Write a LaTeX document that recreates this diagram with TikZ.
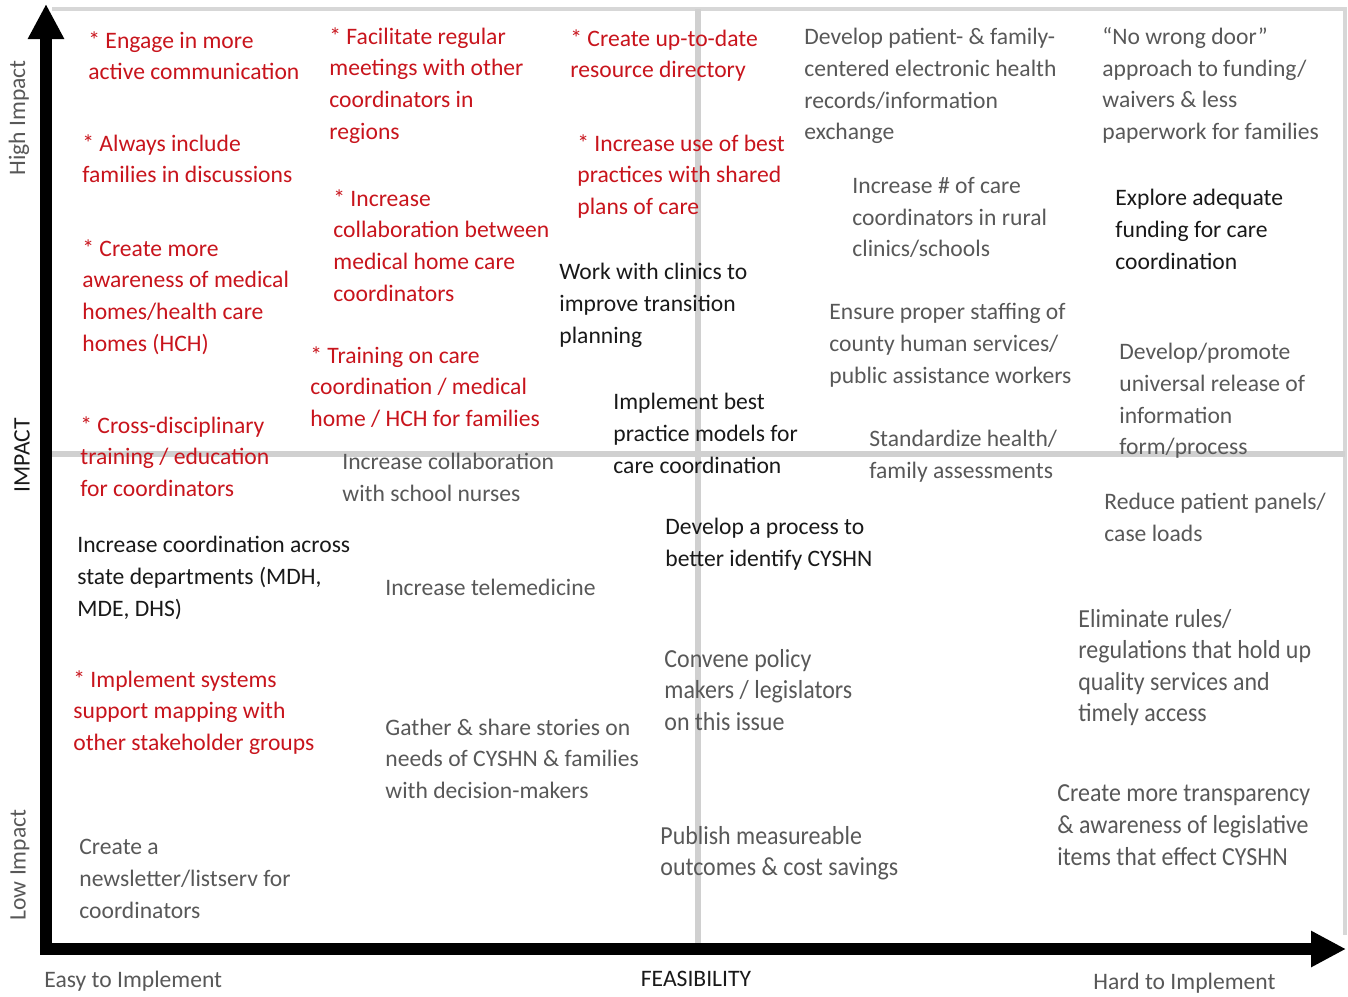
\documentclass[tikz,border=0pt]{standalone}
\usepackage{fontspec}
\setmainfont{Carlito}
\newfontfamily\condfont[FakeStretch=0.92]{Carlito}
\usetikzlibrary{arrows.meta}
\definecolor{itemred}{RGB}{200,20,28}
\definecolor{itemgray}{RGB}{88,88,88}
\definecolor{itemblack}{RGB}{25,25,25}
\definecolor{gridgray}{RGB}{208,208,208}
\definecolor{framegray}{RGB}{215,215,215}
\tikzset{
  item/.style={anchor=north west, inner sep=0pt, align=left,
    execute at begin node={\rule{0pt}{11pt}}},
  regfont/.style={item, yshift=4.4pt, font=\fontsize{11.8}{15.8}\selectfont},
  rtext/.style={regfont, text=itemred},
  gtext/.style={regfont, text=itemgray},
  btext/.style={regfont, text=itemblack},
  ctext/.style={item, text=itemgray, yshift=4.2pt,
    font=\condfont\fontsize{13}{15.8}\selectfont},
  axlabel/.style={inner sep=0pt, font=\fontsize{11.8}{15.8}\selectfont},
  gridline/.style={draw=gridgray, line width=2.6pt},
  frameline/.style={draw=framegray, line width=1.8pt},
  axis/.style={line width=6pt, line join=miter,
    {Triangle[length=17.5pt,width=17pt]}-{Triangle[length=17.5pt,width=17pt]}}
}
\begin{document}
\begin{tikzpicture}[x=0.5pt,y=-0.5pt]
\useasboundingbox (0,0) rectangle (1348,996);
% frame and grid
\coordinate (ftl) at (52,9);
\coordinate (ftr) at (1345,9);
\coordinate (fbr) at (1345,935);
\draw[frameline] (ftl) -- (ftr) -- (fbr);
\coordinate (vt) at (698,9);
\coordinate (vb) at (698,945);
\coordinate (hl) at (50,454);
\coordinate (hr) at (1345,454);
\draw[gridline] (vt) -- (vb);
\draw[gridline] (hl) -- (hr);
% axes
\coordinate (ytip) at (46,4);
\coordinate (corner) at (46,949);
\coordinate (xtip) at (1346,949);
\draw[axis] (ytip) -- (corner) -- (xtip);
% axis labels
\node[axlabel, rotate=90, text=itemgray] (hi) at (19,118) {High Impact};
\node[axlabel, rotate=90, text=itemblack] (imp) at (22,455) {IMPACT};
\node[axlabel, rotate=90, text=itemgray] (lo) at (20,865) {Low Impact};
\node[axlabel, anchor=west, text=itemgray] (easy) at (44,981) {Easy to Implement};
\node[axlabel, text=itemblack] (feas) at (696,979) {FEASIBILITY};
\node[axlabel, anchor=west, text=itemgray] (hard) at (1093,983) {Hard to Implement};
% red items
\node[rtext] (r1) at (88,40) {* Engage in more\\active communication};
\node[rtext] (r2) at (82,143) {* Always include\\families in discussions};
\node[rtext] (r3) at (82,248) {* Create more\\awareness of medical\\homes/health care\\homes (HCH)};
\node[rtext] (r4) at (80,425) {* Cross-disciplinary\\training / education\\for coordinators};
\node[rtext] (r5) at (329,36) {* Facilitate regular\\meetings with other\\coordinators in\\regions};
\node[rtext] (r6) at (333,198) {* Increase\\collaboration between\\medical home care\\coordinators};
\node[rtext] (r7) at (310,355) {* Training on care\\coordination / medical\\home / HCH for families};
\node[rtext] (r8) at (570,38) {* Create up-to-date\\resource directory};
\node[rtext] (r9) at (577,143) {* Increase use of best\\practices with shared\\plans of care};
\node[rtext] (r10) at (73,679) {* Implement systems\\support mapping with\\other stakeholder groups};
% black items
\node[btext] (b1) at (559,272) {Work with clinics to\\improve transition\\planning};
\node[btext] (b2) at (613,402) {Implement best\\practice models for\\care coordination};
\node[btext] (b3) at (77,545) {Increase coordination across\\state departments (MDH,\\MDE, DHS)};
\node[btext] (b4) at (665,527) {Develop a process to\\better identify CYSHN};
\node[btext] (b5) at (1115,198) {Explore adequate\\funding for care\\coordination};
% gray items
\node[gtext] (g1) at (804,37) {Develop patient- \& family-\\centered electronic health\\records/information\\exchange};
\node[gtext] (g2) at (1102,36) {“No wrong door”\\approach to funding/\\waivers \& less\\paperwork for families};
\node[gtext] (g3) at (852,186) {Increase \# of care\\coordinators in rural\\clinics/schools};
\node[gtext] (g4) at (829,312) {Ensure proper staffing of\\county human services/\\public assistance workers};
\node[gtext] (g5) at (1119,352) {Develop/promote\\universal release of\\information\\form/process};
\node[gtext] (g6) at (869,439) {Standardize health/\\family assessments};
\node[gtext] (g7) at (342,462) {Increase collaboration\\with school nurses};
\node[gtext] (g8) at (385,582) {Increase telemedicine};
\node[gtext] (g9) at (1104,502) {Reduce patient panels/\\case loads};
\node[ctext] (g10) at (664,657) {Convene policy\\makers / legislators\\on this issue};
\node[ctext] (g11) at (1078,617) {Eliminate rules/\\regulations that hold up\\quality services and\\timely access};
\node[gtext] (g12) at (385,727) {Gather \& share stories on\\needs of CYSHN \& families\\with decision-makers};
\node[ctext] (g13) at (1057,793) {Create more transparency\\\& awareness of legislative\\items that effect CYSHN};
\node[ctext] (g14) at (660,834) {Publish measureable\\outcomes \& cost savings};
\node[gtext] (g15) at (79,848) {Create a\\newsletter/listserv for\\coordinators};
\end{tikzpicture}
\end{document}
